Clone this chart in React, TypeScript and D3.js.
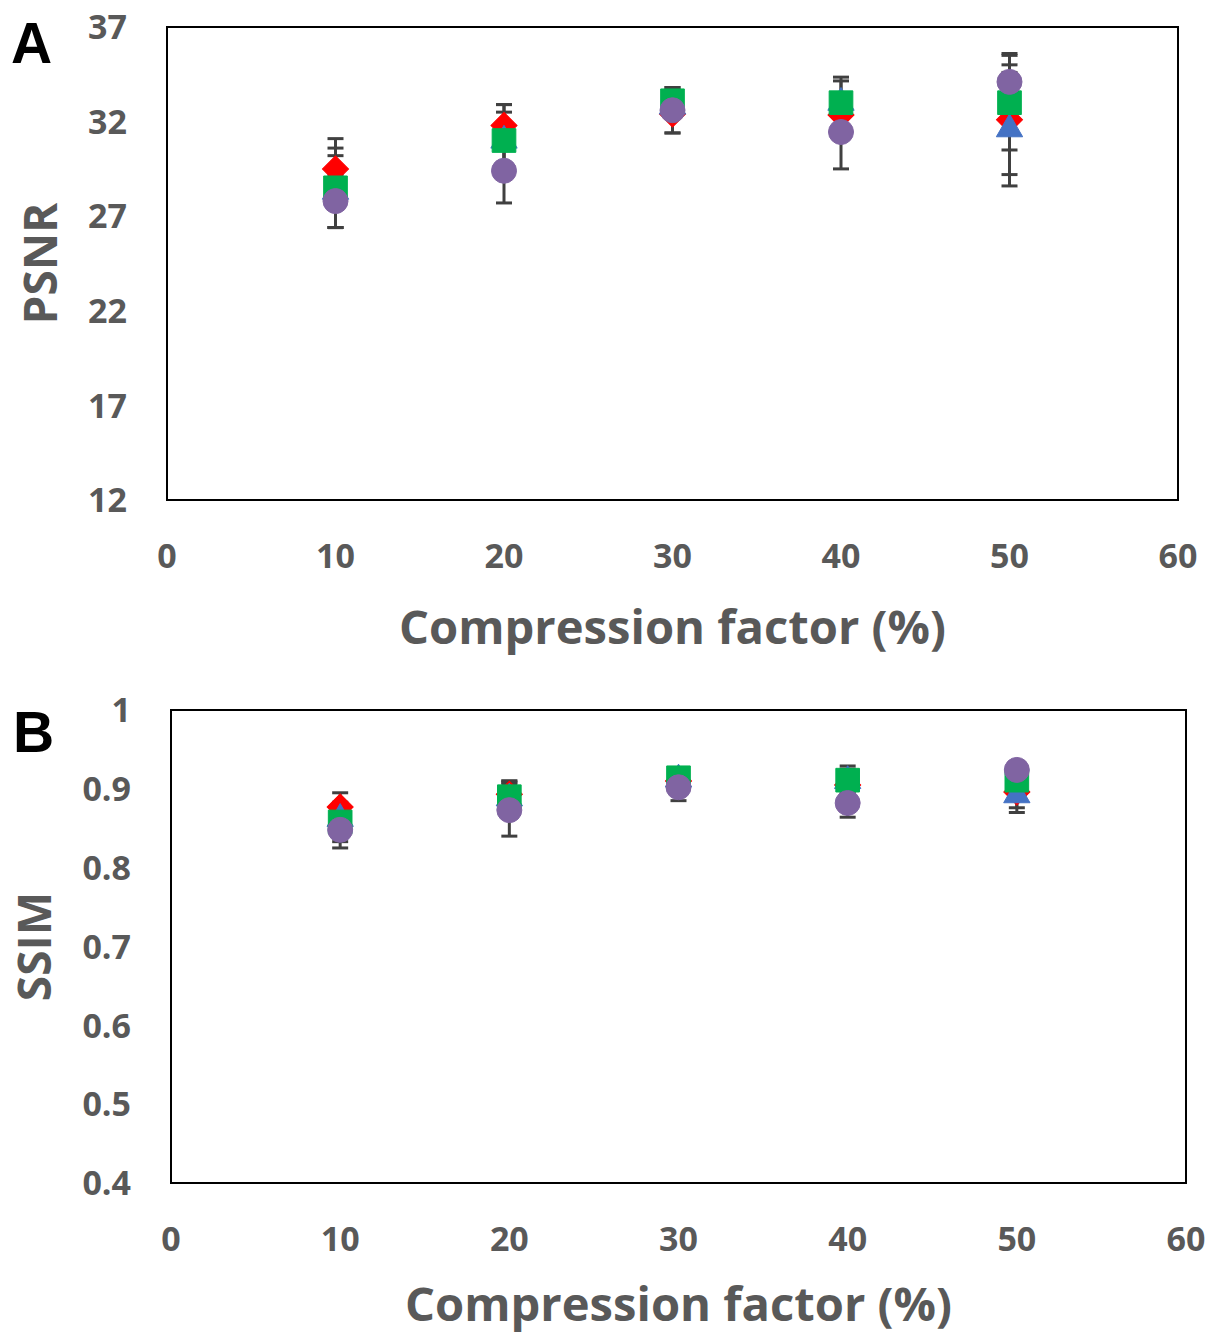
import React, { useEffect, useRef } from "react";
import * as d3 from "d3";

// compression factors (x)
const factors = [10, 20, 30, 40, 50];
const xTicks = [0, 10, 20, 30, 40, 50, 60];

// panel A: PSNR
const psnrTicks = [12, 17, 22, 27, 32, 37];
const psnrDiamond = [29.5, 31.8, 32.4, 32.35, 32.1];
const psnrDiamondErr = [1.6, 1.1, 1.0, 1.0, 2.9];
const psnrTriangle = [28.3, 31.0, 32.8, 33.0, 31.6];
const psnrTriangleErr = [1.9, 1.5, 0.55, 1.15, 3.0];
const psnrSquare = [28.5, 31.0, 33.1, 33.0, 33.0];
const psnrSquareErr = [2.1, 1.9, 0.7, 1.35, 2.5];
const psnrCircle = [27.8, 29.4, 32.6, 31.45, 34.1];
const psnrCircleErr = [1.4, 1.7, 1.2, 1.95, 1.5];

// panel B: SSIM
const ssimTicks = [0.4, 0.5, 0.6, 0.7, 0.8, 0.9, 1];
const ssimDiamond = [0.877, 0.893, 0.91, 0.905, 0.896];
const ssimDiamondErr = [0.018, 0.017, 0.01, 0.015, 0.02];
const ssimTriangle = [0.862, 0.888, 0.912, 0.91, 0.892];
const ssimTriangleErr = [0.02, 0.02, 0.01, 0.015, 0.022];
const ssimSquare = [0.858, 0.89, 0.914, 0.911, 0.911];
const ssimSquareErr = [0.025, 0.02, 0.01, 0.018, 0.015];
const ssimCircle = [0.848, 0.873, 0.902, 0.882, 0.924];
const ssimCircleErr = [0.023, 0.033, 0.017, 0.018, 0.01];

const markerStyles = [
  { shape: "diamond", color: "#ff0000" },
  { shape: "triangle", color: "#4472c4" },
  { shape: "square", color: "#00b050" },
  { shape: "circle", color: "#8064a2" },
];

const panels = [
  {
    letter: "A", title: "PSNR", ticks: psnrTicks, domain: [12, 37],
    left: 167, right: 1178, top: 27, bottom: 500,
    letterX: 11, letterY: 63, yTitleX: 57, xTitleY: 644,
    series: [[psnrDiamond, psnrDiamondErr], [psnrTriangle, psnrTriangleErr], [psnrSquare, psnrSquareErr], [psnrCircle, psnrCircleErr]],
    fmt: (d: number) => String(d),
  },
  {
    letter: "B", title: "SSIM", ticks: ssimTicks, domain: [0.4, 1],
    left: 171, right: 1186, top: 710, bottom: 1183,
    letterX: 13, letterY: 752, yTitleX: 51, xTitleY: 1321,
    series: [[ssimDiamond, ssimDiamondErr], [ssimTriangle, ssimTriangleErr], [ssimSquare, ssimSquareErr], [ssimCircle, ssimCircleErr]],
    fmt: (d: number) => (d === 1 ? "1" : d.toFixed(1)),
  },
];

const App = () => {
  const ref = useRef<SVGSVGElement>(null);

  useEffect(() => {
    const svg = d3.select(ref.current);
    svg.selectAll("*").remove();
    const font = "'Open Sans', sans-serif";
    const gray = "#595959";

    panels.forEach(p => {
      const x = d3.scaleLinear().domain([0, 60]).range([p.left, p.right]);
      const y = d3.scaleLinear().domain(p.domain).range([p.bottom, p.top]);
      const g = svg.append("g");

      g.append("rect")
        .attr("x", p.left).attr("y", p.top)
        .attr("width", p.right - p.left).attr("height", p.bottom - p.top)
        .attr("fill", "none").attr("stroke", "#000").attr("stroke-width", 2);

      g.selectAll(".yt").data(p.ticks).join("text")
        .attr("x", p.left - 40).attr("y", d => y(d))
        .attr("dy", "0.36em").attr("text-anchor", "end")
        .attr("font-family", font).attr("font-weight", "bold")
        .attr("font-size", 34).attr("fill", gray)
        .text(p.fmt);

      g.selectAll(".xt").data(xTicks).join("text")
        .attr("x", d => x(d)).attr("y", p.bottom + 56)
        .attr("dy", "0.36em").attr("text-anchor", "middle")
        .attr("font-family", font).attr("font-weight", "bold")
        .attr("font-size", 34).attr("fill", gray)
        .text(d => String(d));

      g.append("text")
        .attr("x", (p.left + p.right) / 2).attr("y", p.xTitleY)
        .attr("text-anchor", "middle")
        .attr("font-family", font).attr("font-weight", "bold")
        .attr("font-size", 46).attr("fill", gray)
        .attr("textLength", 547).attr("lengthAdjust", "spacingAndGlyphs")
        .text("Compression factor (%)");

      const yMid = (p.top + p.bottom) / 2;
      g.append("text")
        .attr("transform", `translate(${p.yTitleX},${yMid}) rotate(-90)`)
        .attr("text-anchor", "middle")
        .attr("font-family", font).attr("font-weight", "bold")
        .attr("font-size", 46).attr("fill", gray)
        .text(p.title);

      g.append("text")
        .attr("x", p.letterX).attr("y", p.letterY)
        .attr("font-family", "'Liberation Sans', Arial, sans-serif").attr("font-weight", "bold")
        .attr("font-size", 57).attr("fill", "#000")
        .text(p.letter);

      // error bars
      p.series.forEach(([vals, errs]) => {
        const eg = g.append("g").attr("stroke", "#404040").attr("stroke-width", 3);
        factors.forEach((f, i) => {
          const cx = x(f);
          const y0 = y(vals[i] - errs[i]);
          const y1 = y(vals[i] + errs[i]);
          eg.append("line").attr("x1", cx).attr("x2", cx).attr("y1", y0).attr("y2", y1);
          eg.append("line").attr("x1", cx - 8).attr("x2", cx + 8).attr("y1", y0).attr("y2", y0);
          eg.append("line").attr("x1", cx - 8).attr("x2", cx + 8).attr("y1", y1).attr("y2", y1);
        });
      });

      // markers
      p.series.forEach(([vals], si) => {
        const m = markerStyles[si];
        let sym: string;
        let rot = 0;
        if (m.shape === "diamond") { sym = d3.symbol(d3.symbolSquare, 340)()!; rot = 45; }
        else if (m.shape === "triangle") sym = d3.symbol(d3.symbolTriangle, 300)()!;
        else if (m.shape === "square") sym = d3.symbol(d3.symbolSquare, 560)()!;
        else sym = d3.symbol(d3.symbolCircle, 490)()!;
        g.append("g").selectAll("path").data(factors).join("path")
          .attr("d", sym)
          .attr("transform", (f, i) => `translate(${x(f)},${y(vals[i])}) rotate(${rot})`)
          .attr("fill", m.color).attr("stroke", m.color).attr("stroke-width", 1);
      });
    });
  }, []);

  return (
    <div style={{ position: "absolute", left: 0, top: 0 }}>
      <svg ref={ref} width={1208} height={1335} style={{ display: "block", background: "#fff" }} />
    </div>
  );
};

export default App;
